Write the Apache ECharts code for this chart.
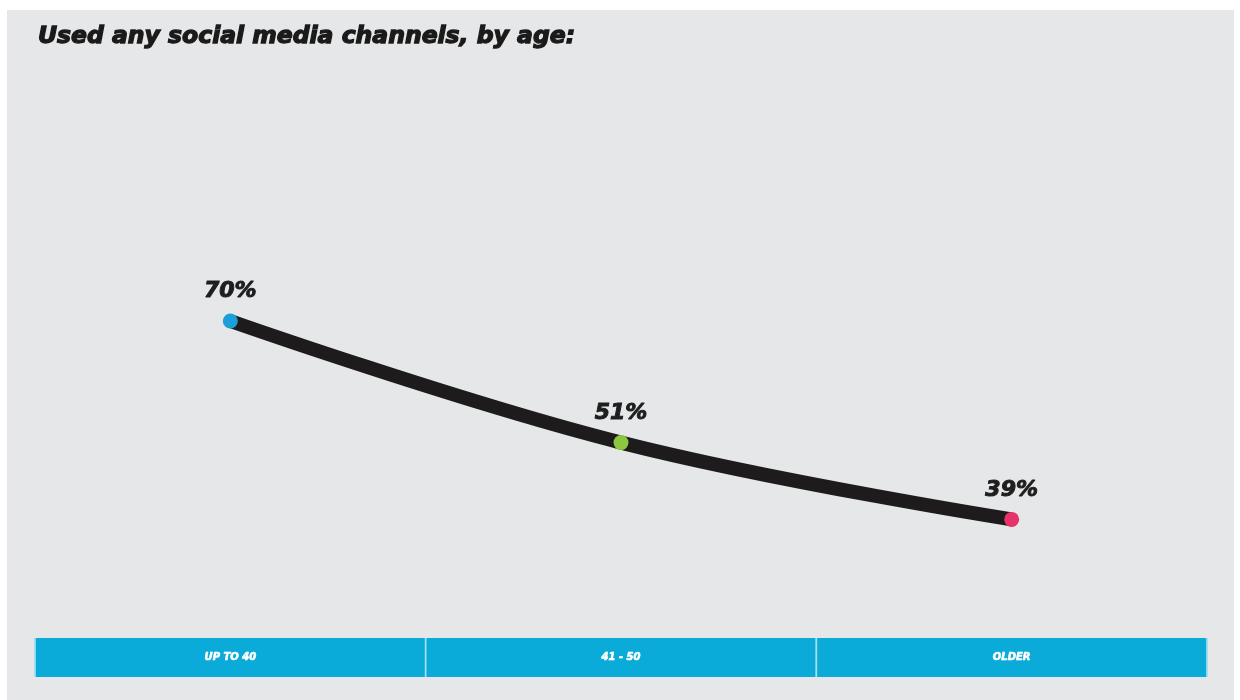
<!DOCTYPE html>
<html><head><meta charset="utf-8">
<script src="https://cdn.jsdelivr.net/npm/echarts@6/dist/echarts.min.js"></script>
<style>
html,body{margin:0;padding:0;background:#fff;}
#panel{position:absolute;left:7px;top:10px;width:1227px;height:690px;background:#e6e7e8;}
#chart{position:absolute;left:0;top:0;width:1240px;height:700px;}
</style></head>
<body>
<div id="panel"></div>
<div id="chart"></div>
<script>
const categories = ['UP TO 40', '41 - 50', 'OLDER'];
const values = [70, 51, 39];
const pointColors = ['#1c9fd8', '#8dc63f', '#e6336a'];
const titleText = 'Used any social media channels, by age:';

const chart = echarts.init(document.getElementById('chart'), null, {renderer: 'canvas'});
chart.setOption({
  backgroundColor: 'transparent',
  animation: false,
  title: {
    text: titleText,
    left: 33, top: 20,
    textStyle: {fontFamily: 'DejaVu Sans', fontSize: 23.5, fontWeight: 'bold', fontStyle: 'italic', color: '#1a1a1a',
      textBorderColor: '#1a1a1a', textBorderWidth: 1.3}
  },
  grid: {left: 35, right: 33, top: 129, bottom: 59},
  xAxis: {
    type: 'category',
    data: categories,
    boundaryGap: true,
    offset: -3,
    axisLine: {show: false},
    axisTick: {show: true, inside: false, length: 39, lineStyle: {color: '#8fe0f2', width: 1.5}},
    axisLabel: {
      margin: 0,
      width: 389,
      height: 39,
      lineHeight: 39,
      align: 'center',
      verticalAlign: 'top',
      backgroundColor: '#0aaad9',
      color: '#ffffff',
      fontFamily: 'DejaVu Sans',
      fontSize: 10,
      fontWeight: 'bold',
      fontStyle: 'italic',
      textBorderColor: '#ffffff',
      textBorderWidth: 0.6
    },
    splitLine: {show: false}
  },
  yAxis: {
    type: 'value', min: 20, max: 100,
    show: false
  },
  series: [{
    type: 'line',
    data: values.map((v, i) => ({value: v, itemStyle: {color: pointColors[i]}})),
    smooth: 0.4,
    symbol: 'circle',
    symbolSize: 15,
    lineStyle: {color: '#1d1b1c', width: 14},
    itemStyle: {borderWidth: 0},
    z: 3,
    label: {
      show: true,
      position: 'top',
      distance: 11,
      formatter: '{c}%',
      fontFamily: 'DejaVu Sans',
      fontSize: 22,
      fontWeight: 'bold',
      fontStyle: 'italic',
      color: '#1e1e1e',
      textBorderColor: '#1e1e1e',
      textBorderWidth: 1
    }
  }]
});
</script>
</body></html>
